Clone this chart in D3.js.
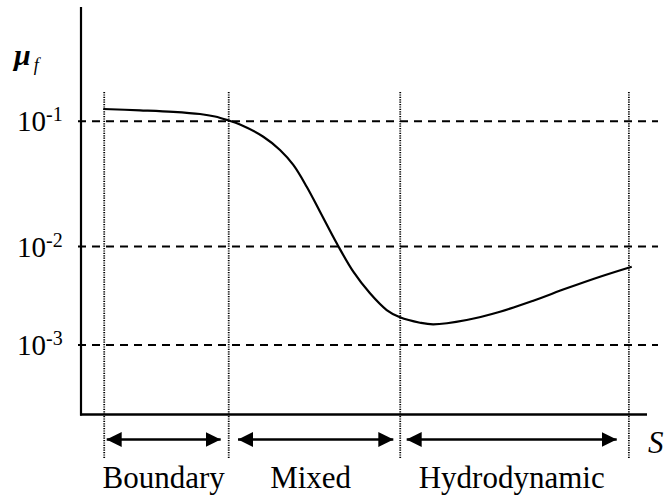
<!DOCTYPE html>
<html>
<head>
<meta charset="utf-8">
<script src="https://cdn.jsdelivr.net/npm/d3@7"></script>
<style>
  html, body { margin: 0; padding: 0; background: #fff; }
  svg { display: block; }
  text { font-family: "Liberation Serif", "Times New Roman", Times, serif; fill: #000; }
</style>
</head>
<body>
<svg id="chart" width="667" height="500" font-family="Liberation Serif, Times New Roman, serif"></svg>
<script>
// Stribeck curve: friction coefficient vs. Stribeck number S (schematic units)
const sValues  = [3.94, 10.42, 16.31, 21.02, 23.67, 25.97, 28.09, 32.21, 35.16, 37.51, 39.88,
                  42.23, 45.18, 48.11, 51.06, 54.01, 56.36, 59.89, 62.24, 68.14, 74.03, 79.91,
                  85.81, 91.70, 97.30];
const muValues = [0.1254, 0.1224, 0.1191, 0.1144, 0.1092, 0.1019, 0.0943, 0.0753, 0.0590, 0.0448,
                  0.0300, 0.01897, 0.01061, 0.00555, 0.00335, 0.002266, 0.001911, 0.001684,
                  0.001622, 0.001794, 0.002178, 0.002817, 0.003763, 0.004936, 0.006236];

// decade ticks on the friction axis
const tickValues = [1e-1, 1e-2, 1e-3];
const tickExponents = ["-1", "-2", "-3"];

// lubrication regimes: boundaries and arrow extents along S
const regimeNames  = ["Boundary", "Mixed", "Hydrodynamic"];
const regimeBounds = [4.1, 26.1, 56.4, 96.8];
const arrowStart   = [4.54, 27.74, 57.54];
const arrowEnd     = [24.68, 55.18, 94.65];

const svg = d3.select("#chart");

const frame = { left: 81, right: 647, top: 7, bottom: 414.5 };

const x = d3.scaleLinear().domain([0, 100]).range([frame.left, frame.right]);
// decades are not evenly spaced in this schematic, so the log scale is piecewise
const y = d3.scaleLog().domain([1e-3, 1e-2, 1e-1]).range([345, 246.5, 121.3]);

// arrowhead marker
const defs = svg.append("defs");
defs.append("marker")
  .attr("id", "head")
  .attr("viewBox", "0 0 15 15")
  .attr("refX", 15).attr("refY", 7.5)
  .attr("markerWidth", 15).attr("markerHeight", 15)
  .attr("markerUnits", "userSpaceOnUse")
  .attr("orient", "auto-start-reverse")
  .append("path")
  .attr("d", "M0,0 L15,7.5 L0,15 Z")
  .attr("fill", "#000");

// dashed decade lines
svg.append("g").selectAll("line")
  .data(tickValues)
  .join("line")
  .attr("x1", frame.left - 3).attr("x2", 658)
  .attr("y1", d => y(d)).attr("y2", d => y(d))
  .attr("stroke", "#000")
  .attr("stroke-width", 2)
  .attr("stroke-dasharray", "8,6");

// dotted regime boundaries
svg.append("g").selectAll("line")
  .data(regimeBounds)
  .join("line")
  .attr("x1", d => x(d)).attr("x2", d => x(d))
  .attr("y1", 92).attr("y2", 459)
  .attr("stroke", "#000")
  .attr("stroke-width", 1.8)
  .attr("stroke-dasharray", "1.2,1.2");

// axes
svg.append("line")
  .attr("x1", frame.left).attr("x2", frame.left)
  .attr("y1", frame.top).attr("y2", frame.bottom + 1)
  .attr("stroke", "#000").attr("stroke-width", 2.2);
svg.append("line")
  .attr("x1", frame.left - 1).attr("x2", frame.right)
  .attr("y1", frame.bottom).attr("y2", frame.bottom)
  .attr("stroke", "#000").attr("stroke-width", 2.4);

// tick labels 10^n
const tl = svg.append("g").selectAll("text")
  .data(tickValues)
  .join("text")
  .attr("x", 17)
  .attr("y", d => y(d) + 10)
  .attr("font-size", 29);
tl.append("tspan").text("10");
tl.append("tspan")
  .attr("font-size", 20)
  .attr("dy", -10)
  .text((d, i) => tickExponents[i]);

// friction curve
const pts = sValues.map((s, i) => [s, muValues[i]]);
svg.append("path")
  .datum(pts)
  .attr("fill", "none")
  .attr("stroke", "#000")
  .attr("stroke-width", 2.2)
  .attr("d", d3.line()
    .x(d => x(d[0]))
    .y(d => y(d[1]))
    .curve(d3.curveCatmullRom.alpha(0.5)));

// regime arrows and labels
const arrowY = 439.5;
svg.append("g").selectAll("line")
  .data(regimeNames)
  .join("line")
  .attr("x1", (d, i) => x(arrowStart[i]))
  .attr("x2", (d, i) => x(arrowEnd[i]))
  .attr("y1", arrowY).attr("y2", arrowY)
  .attr("stroke", "#000")
  .attr("stroke-width", 2.5)
  .attr("marker-start", "url(#head)")
  .attr("marker-end", "url(#head)");

svg.append("g").selectAll("text")
  .data(regimeNames)
  .join("text")
  .attr("x", (d, i) => (x(arrowStart[i]) + x(arrowEnd[i])) / 2 - (d === "Mixed" ? 5 : 0))
  .attr("y", 488)
  .attr("text-anchor", "middle")
  .attr("font-size", 31)
  .text(d => d);

// axis titles
const muLabel = svg.append("text").attr("x", 14).attr("y", 65);
muLabel.append("tspan")
  .attr("font-size", 30).attr("font-style", "italic").attr("font-weight", "bold")
  .text("μ");
muLabel.append("tspan")
  .attr("font-size", 18).attr("font-style", "italic")
  .attr("dx", 3).attr("dy", 6)
  .text("f");

svg.append("text")
  .attr("x", 648).attr("y", 453)
  .attr("font-size", 31).attr("font-style", "italic")
  .text("S");
</script>
</body>
</html>
